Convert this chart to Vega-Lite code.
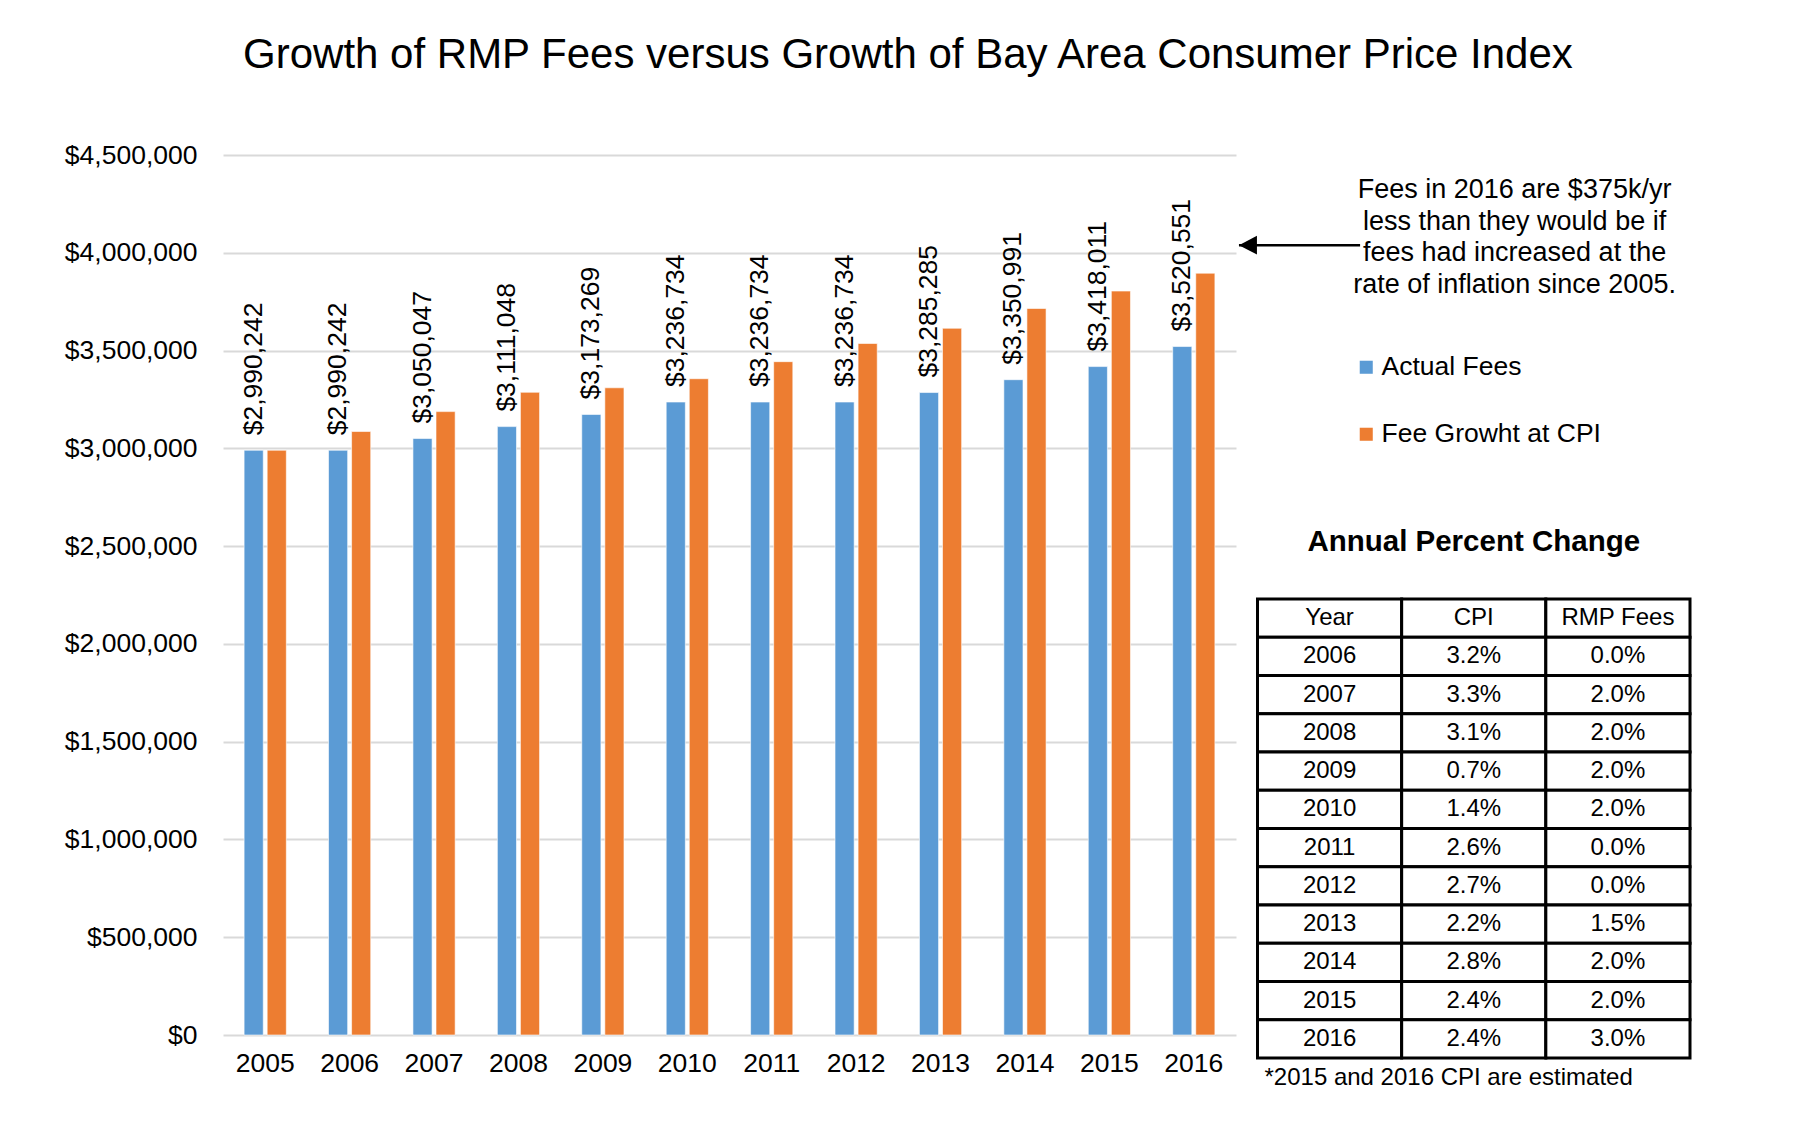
{
  "$schema": "https://vega.github.io/schema/vega-lite/v6.json",
  "background": "white",
  "padding": {"left": 64, "top": 34, "right": 0, "bottom": 0},
  "config": {
    "font": "Liberation Sans",
    "view": {"stroke": null},
    "text": {"color": "black"}
  },
  "title": {
    "text": "Growth of RMP Fees versus Growth of Bay Area Consumer Price Index",
    "fontSize": 42,
    "fontWeight": "normal",
    "color": "black",
    "anchor": "middle",
    "dx": 30,
    "offset": 65
  },
  "datasets": {
    "fees": [
      {"year": "2005", "series": "Actual Fees", "value": 2990242},
      {"year": "2005", "series": "Fee Growht at CPI", "value": 2990242},
      {"year": "2006", "series": "Actual Fees", "value": 2990242},
      {"year": "2006", "series": "Fee Growht at CPI", "value": 3085930},
      {"year": "2007", "series": "Actual Fees", "value": 3050047},
      {"year": "2007", "series": "Fee Growht at CPI", "value": 3187766},
      {"year": "2008", "series": "Actual Fees", "value": 3111048},
      {"year": "2008", "series": "Fee Growht at CPI", "value": 3286587},
      {"year": "2009", "series": "Actual Fees", "value": 3173269},
      {"year": "2009", "series": "Fee Growht at CPI", "value": 3309593},
      {"year": "2010", "series": "Actual Fees", "value": 3236734},
      {"year": "2010", "series": "Fee Growht at CPI", "value": 3355927},
      {"year": "2011", "series": "Actual Fees", "value": 3236734},
      {"year": "2011", "series": "Fee Growht at CPI", "value": 3443181},
      {"year": "2012", "series": "Actual Fees", "value": 3236734},
      {"year": "2012", "series": "Fee Growht at CPI", "value": 3536147},
      {"year": "2013", "series": "Actual Fees", "value": 3285285},
      {"year": "2013", "series": "Fee Growht at CPI", "value": 3613942},
      {"year": "2014", "series": "Actual Fees", "value": 3350991},
      {"year": "2014", "series": "Fee Growht at CPI", "value": 3715132},
      {"year": "2015", "series": "Actual Fees", "value": 3418011},
      {"year": "2015", "series": "Fee Growht at CPI", "value": 3804295},
      {"year": "2016", "series": "Actual Fees", "value": 3520551},
      {"year": "2016", "series": "Fee Growht at CPI", "value": 3895598}
    ],
    "note": [
      {"yr": 2019.8, "value": 4321000, "note": "Fees in 2016 are $375k/yr\nless than they would be if\nfees had increased at the\nrate of inflation since 2005."}
    ],
    "arrow": [
      {"yr": 2016.535, "yr2": 2017.97, "value": 4039000}
    ],
    "pct": [
      {"Year": "Year", "CPI": "CPI", "RMP Fees": "RMP Fees"},
      {"Year": "2006", "CPI": "3.2%", "RMP Fees": "0.0%"},
      {"Year": "2007", "CPI": "3.3%", "RMP Fees": "2.0%"},
      {"Year": "2008", "CPI": "3.1%", "RMP Fees": "2.0%"},
      {"Year": "2009", "CPI": "0.7%", "RMP Fees": "2.0%"},
      {"Year": "2010", "CPI": "1.4%", "RMP Fees": "2.0%"},
      {"Year": "2011", "CPI": "2.6%", "RMP Fees": "0.0%"},
      {"Year": "2012", "CPI": "2.7%", "RMP Fees": "0.0%"},
      {"Year": "2013", "CPI": "2.2%", "RMP Fees": "1.5%"},
      {"Year": "2014", "CPI": "2.8%", "RMP Fees": "2.0%"},
      {"Year": "2015", "CPI": "2.4%", "RMP Fees": "2.0%"},
      {"Year": "2016", "CPI": "2.4%", "RMP Fees": "3.0%"}
    ]
  },
  "bounds": "flush",
  "spacing": 21.5,
  "hconcat": [
    {
      "width": 1013,
      "height": 880,
      "resolve": {"scale": {"x": "independent"}},
      "layer": [
        {
          "data": {"name": "fees"},
          "layer": [
            {
              "mark": {"type": "bar", "stroke": "white", "strokeWidth": 0.6},
              "encoding": {
                "x": {
                  "field": "year", "type": "nominal",
                  "scale": {"paddingInner": 0.5, "paddingOuter": 0.25},
                  "axis": {"labelAngle": 0, "labelFontSize": 26.5, "labelColor": "black", "ticks": false, "tickSize": 0, "domain": false, "labelPadding": 15, "title": null, "grid": false}
                },
                "xOffset": {
                  "field": "series", "type": "nominal",
                  "scale": {"domain": ["Actual Fees", "Fee Growht at CPI"], "paddingInner": 0.17, "paddingOuter": 0}
                },
                "y": {
                  "field": "value", "type": "quantitative",
                  "scale": {"domain": [0, 4500000], "nice": false},
                  "axis": {
                    "values": [0, 500000, 1000000, 1500000, 2000000, 2500000, 3000000, 3500000, 4000000, 4500000],
                    "format": "$,.0f", "labelFontSize": 26.5, "labelColor": "black",
                    "grid": true, "gridColor": "#d9d9d9", "gridWidth": 2,
                    "domain": false, "ticks": false, "tickSize": 0, "labelPadding": 26, "title": null
                  }
                },
                "color": {
                  "field": "series", "type": "nominal",
                  "scale": {"domain": ["Actual Fees", "Fee Growht at CPI"], "range": ["#5B9BD5", "#ED7D31"]},
                  "legend": {
                    "orient": "none", "legendX": 1130, "legendY": 199, "title": null,
                    "labelFontSize": 26.5, "labelColor": "black", "labelLimit": 500, "symbolType": "square",
                    "symbolSize": 170, "symbolStrokeWidth": 0, "rowPadding": 40,
                    "labelOffset": 2, "padding": 0, "symbolOpacity": 1
                  }
                }
              }
            },
            {
              "transform": [{"filter": "datum.series === 'Actual Fees'"}],
              "mark": {"type": "text", "angle": 270, "align": "left", "baseline": "middle", "dx": 15, "fontSize": 26.5, "color": "black"},
              "encoding": {
                "x": {"field": "year", "type": "nominal"},
                "xOffset": {"field": "series", "type": "nominal"},
                "y": {"field": "value", "type": "quantitative"},
                "text": {"field": "value", "type": "quantitative", "format": "$,.0f"}
              }
            }
          ]
        },
        {
          "layer": [
            {
              "data": {"name": "note"},
              "mark": {"type": "text", "align": "center", "baseline": "middle", "fontSize": 27, "lineHeight": 31.5, "lineBreak": "\n", "color": "black"},
              "encoding": {
                "x": {"field": "yr", "type": "quantitative", "scale": {"domain": [2004.5, 2016.5], "nice": false, "zero": false}, "axis": null},
                "y": {"field": "value", "type": "quantitative"},
                "text": {"field": "note"}
              }
            },
            {
              "data": {"name": "arrow"},
              "mark": {"type": "rule", "color": "black", "strokeWidth": 2.5},
              "encoding": {
                "x": {"field": "yr", "type": "quantitative", "axis": null},
                "x2": {"field": "yr2"},
                "y": {"field": "value", "type": "quantitative"}
              }
            },
            {
              "data": {"name": "arrow"},
              "mark": {"type": "point", "shape": "M0,0L2,-1.05L2,1.05Z", "filled": true, "color": "black", "size": 324, "opacity": 1, "strokeWidth": 0},
              "encoding": {
                "x": {"field": "yr", "type": "quantitative", "axis": null},
                "y": {"field": "value", "type": "quantitative"}
              }
            }
          ]
        }
      ]
    },
    {
      "bounds": "flush",
      "spacing": 0,
      "vconcat": [
        {
          "width": 432.5,
          "height": 443.5,
          "data": {"values": []},
          "mark": "point"
        },
        {
          "width": 432.5,
          "height": 459,
          "data": {"name": "pct"},
          "transform": [{"fold": ["Year", "CPI", "RMP Fees"], "as": ["col", "cell"]}],
          "title": {"text": "Annual Percent Change", "fontSize": 29.5, "fontWeight": "bold", "anchor": "middle", "offset": 40, "color": "black"},
          "encoding": {
            "x": {
              "field": "col", "type": "nominal", "sort": ["Year", "CPI", "RMP Fees"],
              "scale": {"paddingInner": 0, "paddingOuter": 0},
              "axis": {"labels": false, "ticks": false, "domain": false, "grid": false, "title": "*2015 and 2016 CPI are estimated", "titleFontSize": 24, "titleFontWeight": "normal", "titleColor": "black", "titleAnchor": "start", "titleAlign": "left", "titleX": 6.5, "titlePadding": 7}
            },
            "y": {"field": "Year", "type": "nominal", "sort": null, "scale": {"paddingInner": 0, "paddingOuter": 0}, "axis": null}
          },
          "layer": [
            {"mark": {"type": "rect", "fill": "white", "stroke": "black", "strokeWidth": 3}},
            {"mark": {"type": "text", "fontSize": 24, "color": "black"}, "encoding": {"text": {"field": "cell", "type": "nominal"}}}
          ]
        }
      ]
    }
  ]
}
